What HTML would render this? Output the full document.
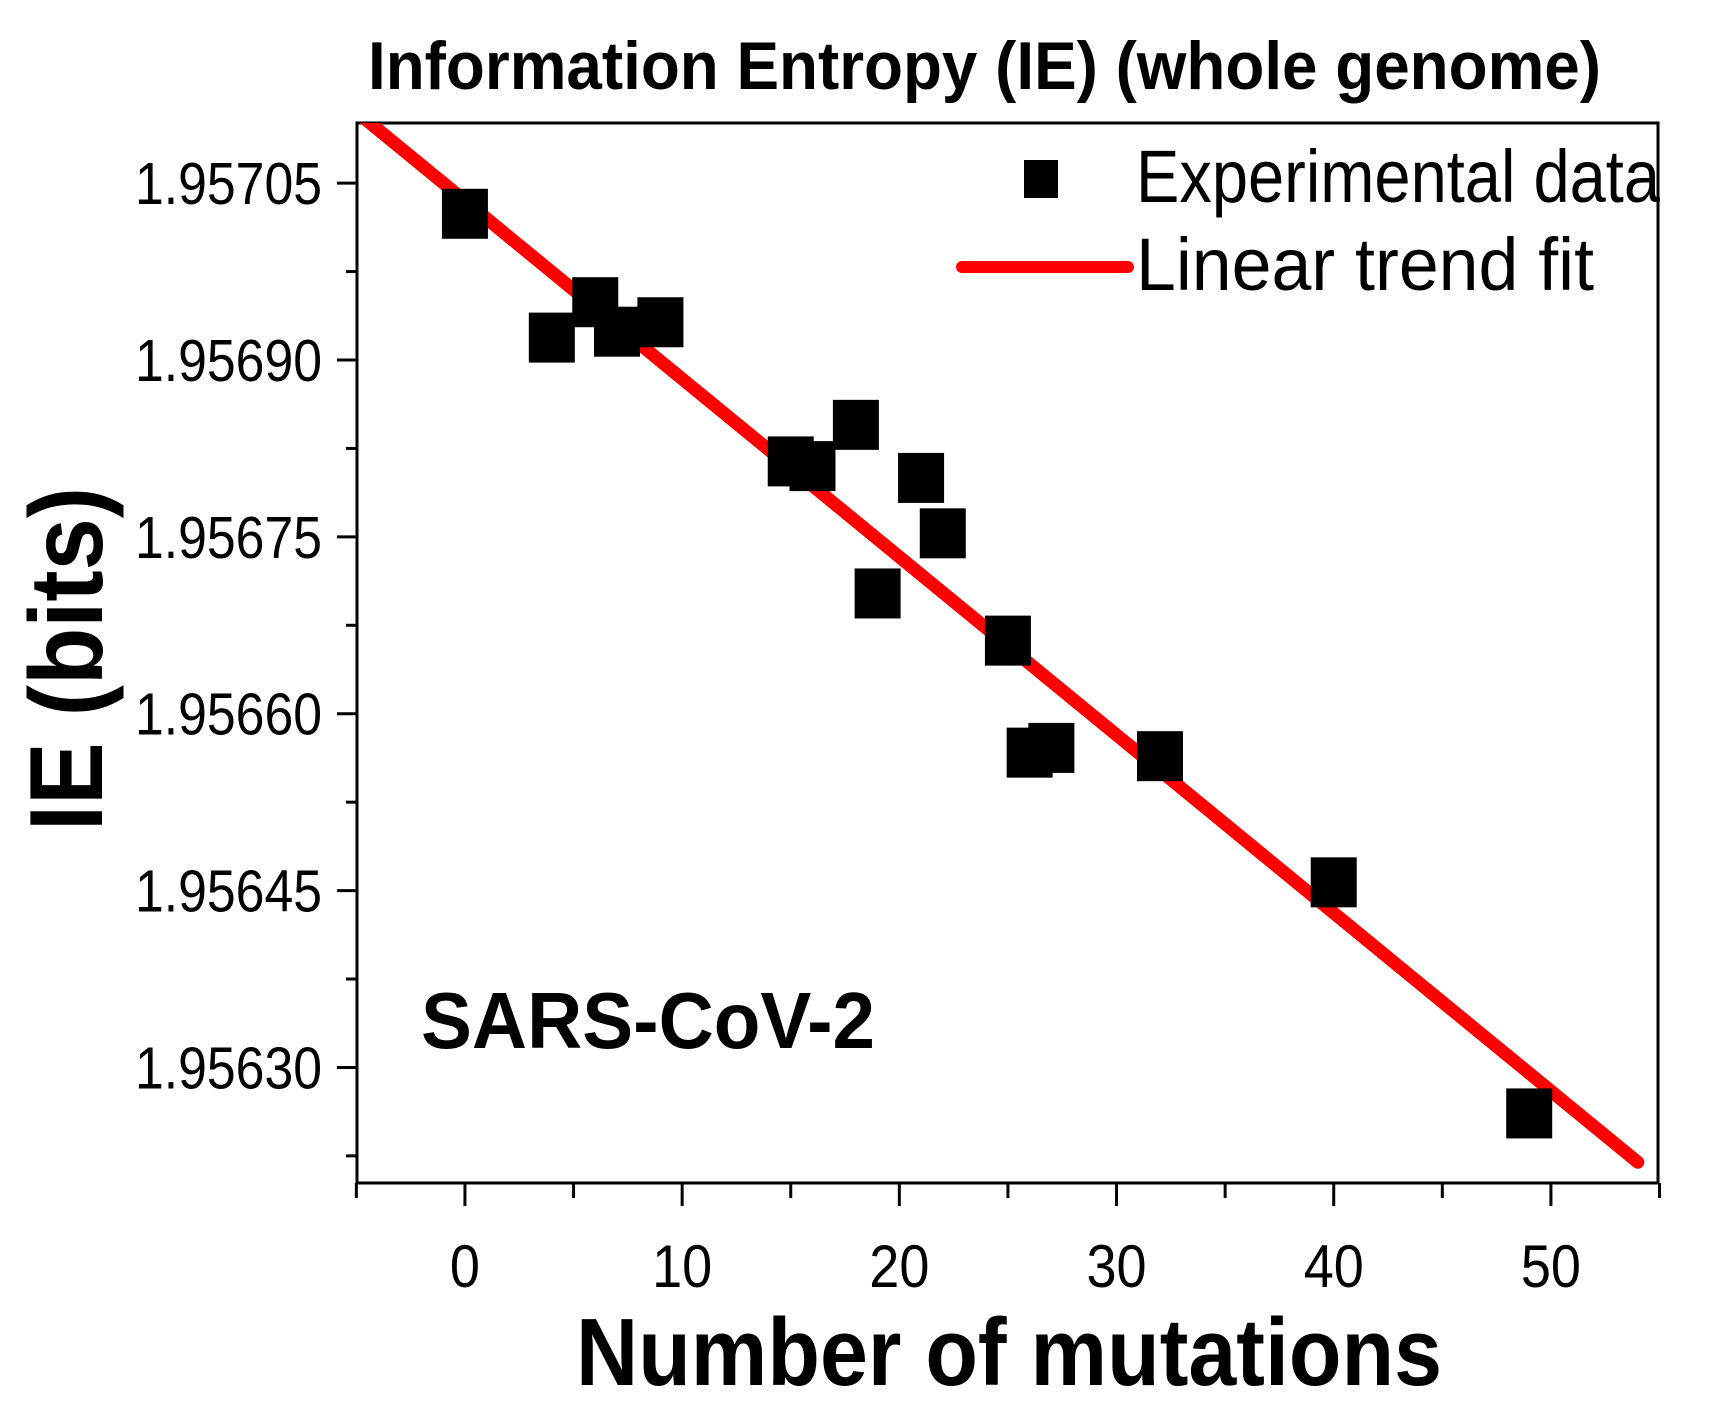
<!DOCTYPE html>
<html><head><meta charset="utf-8"><style>
html,body{margin:0;padding:0;background:#fff;}
svg{display:block;}
text{font-family:"Liberation Sans",Arial,sans-serif;fill:#000;}
</style></head><body>
<svg id="chart" width="1712" height="1421" viewBox="0 0 1712 1421">
<text x="368" y="89" font-size="68" font-weight="bold" textLength="1233" lengthAdjust="spacingAndGlyphs">Information Entropy (IE) (whole genome)</text>
<g id="axes"></g>
<g id="fit"></g>
<g id="pts"></g>
<text x="421" y="1048" font-size="80" font-weight="bold" textLength="454" lengthAdjust="spacingAndGlyphs">SARS-CoV-2</text>
<text transform="translate(102,659) rotate(-90)" text-anchor="middle" font-size="104" font-weight="bold" textLength="344" lengthAdjust="spacingAndGlyphs">IE (bits)</text>
<text x="576" y="1385" font-size="96" font-weight="bold" textLength="866" lengthAdjust="spacingAndGlyphs">Number of mutations</text>
<g>
<rect x="1024" y="160" width="34" height="38" fill="#000"></rect>
<text x="1136" y="202" font-size="74" textLength="524" lengthAdjust="spacingAndGlyphs">Experimental data</text>
<line x1="962" y1="267" x2="1128" y2="267" stroke="#f00" stroke-width="12" stroke-linecap="round"></line>
<text x="1136" y="290" font-size="74" textLength="458" lengthAdjust="spacingAndGlyphs">Linear trend fit</text>
</g>
</svg>
<script>
const xs = [0,4,6,7,9,15,16,18,19,21,22,25,26,27,32,40,49];
const ys = [1.957024,1.956919,1.956949,1.956924,1.956932,1.956814,1.956810,1.956845,1.956702,1.956800,1.956753,1.956662,1.956567,1.956571,1.956564,1.956457,1.956261];
const xTicks = [0,10,20,30,40,50];
const yTicks = [1.95705,1.95690,1.95675,1.95660,1.95645,1.95630];
const yTickLabels = ["1.95705","1.95690","1.95675","1.95660","1.95645","1.95630"];
const fitIntercept = 1.957035;
const fitSlope = -0.00001510;
const fitRange = [-4.6,54];

const L=357,R=1658,T=123,B=1183;
const X0=-4.97,X1=54.93, Y0=1.956202,Y1=1.957101;
function sx(v){return L+(v-X0)/(X1-X0)*(R-L);}
function sy(v){return B-(v-Y0)/(Y1-Y0)*(B-T);}
const NS="http://www.w3.org/2000/svg";
function mk(tag,attrs,parent){const e=document.createElementNS(NS,tag);for(const k in attrs)e.setAttribute(k,attrs[k]);parent.appendChild(e);return e;}
const ax=document.getElementById('axes');
const frame=mk('rect',{x:L,y:T,width:R-L,height:B-T,fill:'none',stroke:'#000','stroke-width':3},ax);


for(let v=-5;v<=55;v+=5){
  const major=v%10===0;
  const t=mk('line',{x1:sx(v),x2:sx(v),y1:B,y2:B+(major?23:15),stroke:'#000','stroke-width':3},ax);
  
  
}
xTicks.forEach(v=>{
  const t=mk('text',{x:sx(v),y:1287,'font-size':60,'text-anchor':'middle',transform:'translate('+sx(v)+',0) scale(0.9,1) translate('+(-sx(v))+',0)'},ax);
  t.textContent=String(v);
  
  
});
for(let i=-1;i<12;i++){
  const v=1.95705-i*0.000075;
  if(v<Y0||v>Y1)continue;
  const major=i%2===0;
  const t=mk('line',{x1:L,x2:L-(major?20:11),y1:sy(v),y2:sy(v),stroke:'#000','stroke-width':3},ax);
  
  
}
yTicks.forEach((v,i)=>{
  const t=mk('text',{x:135,y:sy(v)+21,'font-size':59,textLength:187,lengthAdjust:'spacingAndGlyphs'},ax);
  t.textContent=yTickLabels[i];
  
  
});
const pg=document.getElementById('pts');
xs.forEach((x,i)=>{
  const r=mk('rect',{x:sx(x)-23,y:sy(ys[i])-25,width:46,height:50,fill:'#000'},pg);
  
  
});
const fg=document.getElementById('fit');
const fl=mk('line',{x1:sx(fitRange[0]),y1:sy(fitIntercept+fitSlope*fitRange[0]),x2:sx(fitRange[1]),y2:sy(fitIntercept+fitSlope*fitRange[1]),stroke:'#f00','stroke-width':13,'stroke-linecap':'round'},fg);


const cp=mk('clipPath',{id:'clipP'},document.getElementById('chart'));
mk('rect',{x:L,y:T,width:R-L,height:B-T},cp);
fg.setAttribute('clip-path','url(#clipP)');
</script>
</body></html>
